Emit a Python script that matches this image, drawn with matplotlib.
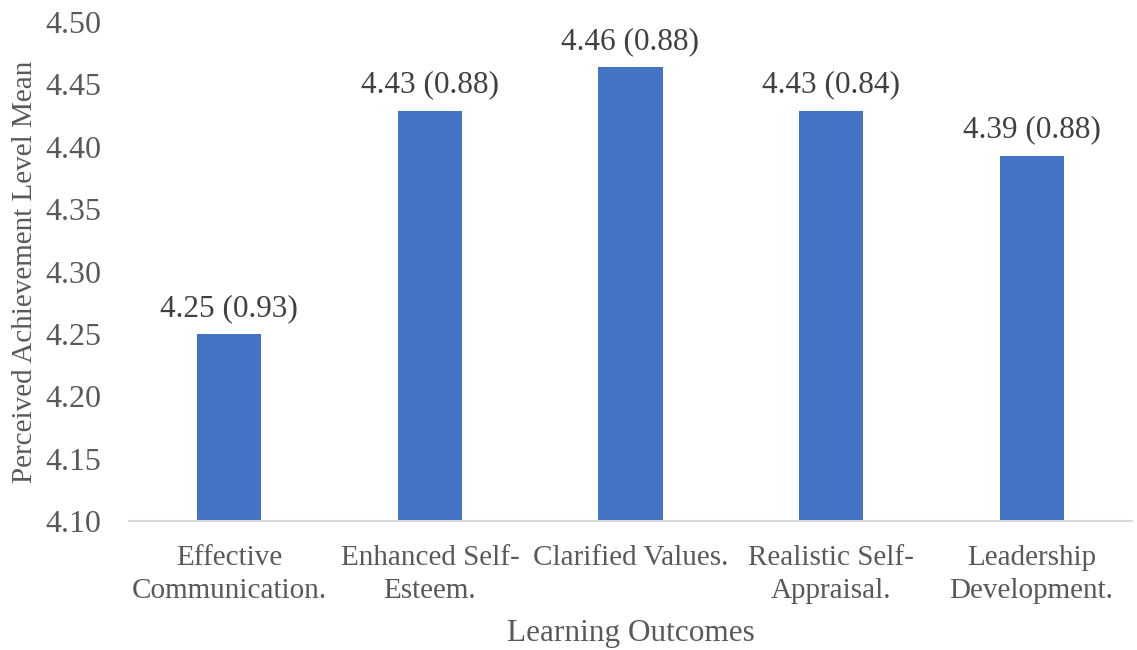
import matplotlib.pyplot as plt
import numpy as np

outcomes = ['Effective\nCommunication.', 'Enhanced Self-\nEsteem.', 'Clarified Values.',
            'Realistic Self-\nAppraisal.', 'Leadership\nDevelopment.']
means = [4.25, 4.429, 4.464, 4.429, 4.393]
labels = ['4.25 (0.93)', '4.43 (0.88)', '4.46 (0.88)', '4.43 (0.84)', '4.39 (0.88)']
yticks = [4.10, 4.15, 4.20, 4.25, 4.30, 4.35, 4.40, 4.45, 4.50]

plt.rcParams['font.family'] = ['Liberation Serif', 'DejaVu Serif']
txt = '#595959'

fig = plt.figure(figsize=(11.37, 6.5), dpi=100)
ax = fig.add_axes([0.1135, 0.1985, 0.882, 0.7675])

x = np.arange(len(means))
ax.bar(x, np.array(means) - 4.10, bottom=4.10, width=0.32, color='#4472C4')

for xi, m, lab in zip(x, means, labels):
    ax.annotate(lab, (xi, m), xytext=(0, 8), textcoords='offset points',
                ha='center', va='bottom', fontsize=22.5, color='#404040')

ax.set_xlim(-0.5, len(means) - 0.5)
ax.set_ylim(4.10, 4.50)
ax.set_yticks(yticks)
ax.set_yticklabels([f'{v:.2f}' for v in yticks])
ax.set_xticks(x)
ax.set_xticklabels(outcomes, linespacing=1.35)

ax.tick_params(axis='y', length=0, pad=20, labelsize=23, labelcolor=txt)
ax.tick_params(axis='x', length=0, pad=17, labelsize=21, labelcolor=txt)

for s in ['top', 'right', 'left']:
    ax.spines[s].set_visible(False)
ax.spines['bottom'].set_color('#d9d9d9')
ax.spines['bottom'].set_linewidth(1.5)

ax.set_xlabel('Learning Outcomes', fontsize=22.5, color=txt, labelpad=11)
ax.set_ylabel('Perceived Achievement Level Mean', fontsize=21, color=txt, labelpad=8)
ax.yaxis.set_label_coords(-0.091, 0.5)

fig.savefig('out.png', dpi=100)
